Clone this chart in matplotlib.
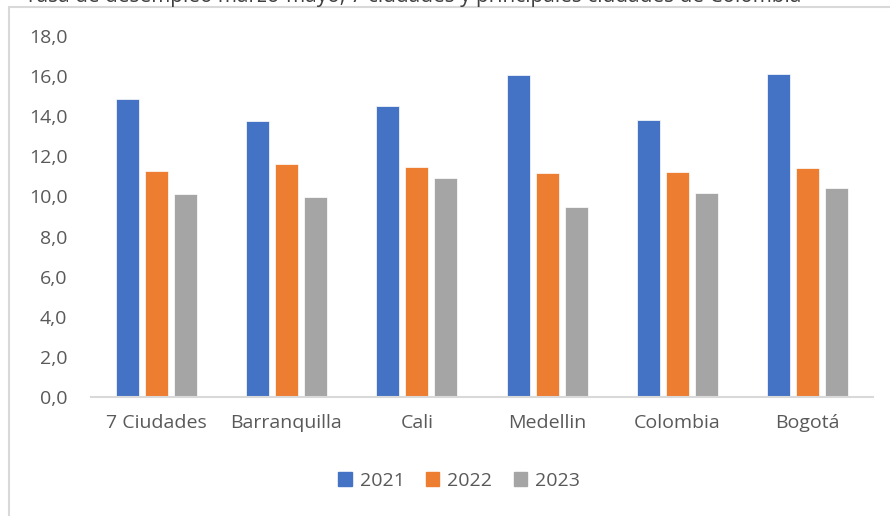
import matplotlib.pyplot as plt
import matplotlib.patches as mpatches
import numpy as np

# Data
ciudades = ['7 Ciudades', 'Barranquilla', 'Cali', 'Medellin', 'Colombia', 'Bogotá']
anios = ['2021', '2022', '2023']
tasa_2021 = [14.85, 13.75, 14.5, 16.05, 13.8, 16.1]
tasa_2022 = [11.25, 11.6, 11.45, 11.15, 11.2, 11.4]
tasa_2023 = [10.1, 9.95, 10.9, 9.45, 10.15, 10.4]
colores = ['#4472C4', '#ED7D31', '#A5A5A5']

plt.rcParams['font.family'] = ['Open Sans', 'DejaVu Sans']
texto = '#595959'

fig = plt.figure(figsize=(8.9, 5.16), dpi=100)
ax = fig.add_axes([91 / 890, 119 / 516, 782 / 890, 361 / 516])

x = np.arange(len(ciudades))
ancho = 0.175
paso = 0.222
series = [tasa_2021, tasa_2022, tasa_2023]
for i, (vals, col, lab) in enumerate(zip(series, colores, anios)):
    ax.bar(x + (i - 1) * paso, vals, width=ancho, color=col, label=lab,
           edgecolor='white', linewidth=0.5)

ax.set_xlim(-0.5, len(ciudades) - 0.5)
ax.set_ylim(0, 18)
ax.set_yticks(np.arange(0, 18.1, 2))
ax.set_yticklabels([f'{v:.1f}'.replace('.', ',') for v in np.arange(0, 18.1, 2)])
ax.set_xticks(x)
ax.set_xticklabels(ciudades)
ax.tick_params(axis='y', length=0, pad=17, labelsize=14, labelcolor=texto)
ax.tick_params(axis='x', length=0, pad=12, labelsize=14, labelcolor=texto)
for s in ['top', 'right', 'left']:
    ax.spines[s].set_visible(False)
ax.spines['bottom'].set_color('#D9D9D9')
ax.spines['bottom'].set_linewidth(1.5)

# Chart frame (partly cut off in the original screenshot)
marco = mpatches.Rectangle((9 / 890, -0.05), 1.0, 1 - 7 / 516 + 0.05,
                           transform=fig.transFigure, fill=False,
                           edgecolor='#D9D9D9', linewidth=1.5)
fig.patches.append(marco)

# Title, mostly cut off at the top edge
fig.text(25 / 890, 1 - 2 / 516, 'Tasa de desempleo marzo-mayo, 7 ciudades y principales ciudades de Colombia',
         ha='left', va='baseline', fontsize=15, color='#404040')

handles = [mpatches.Patch(color=c, label=l) for c, l in zip(colores, anios)]
fig.legend(handles=handles, loc='center', bbox_to_anchor=(459 / 890, 1 - 481 / 516),
           ncol=3, frameon=False, fontsize=14, labelcolor=texto,
           handlelength=0.7, handleheight=0.7, handletextpad=0.4, columnspacing=1.1)

fig.savefig('out.png', dpi=100)
